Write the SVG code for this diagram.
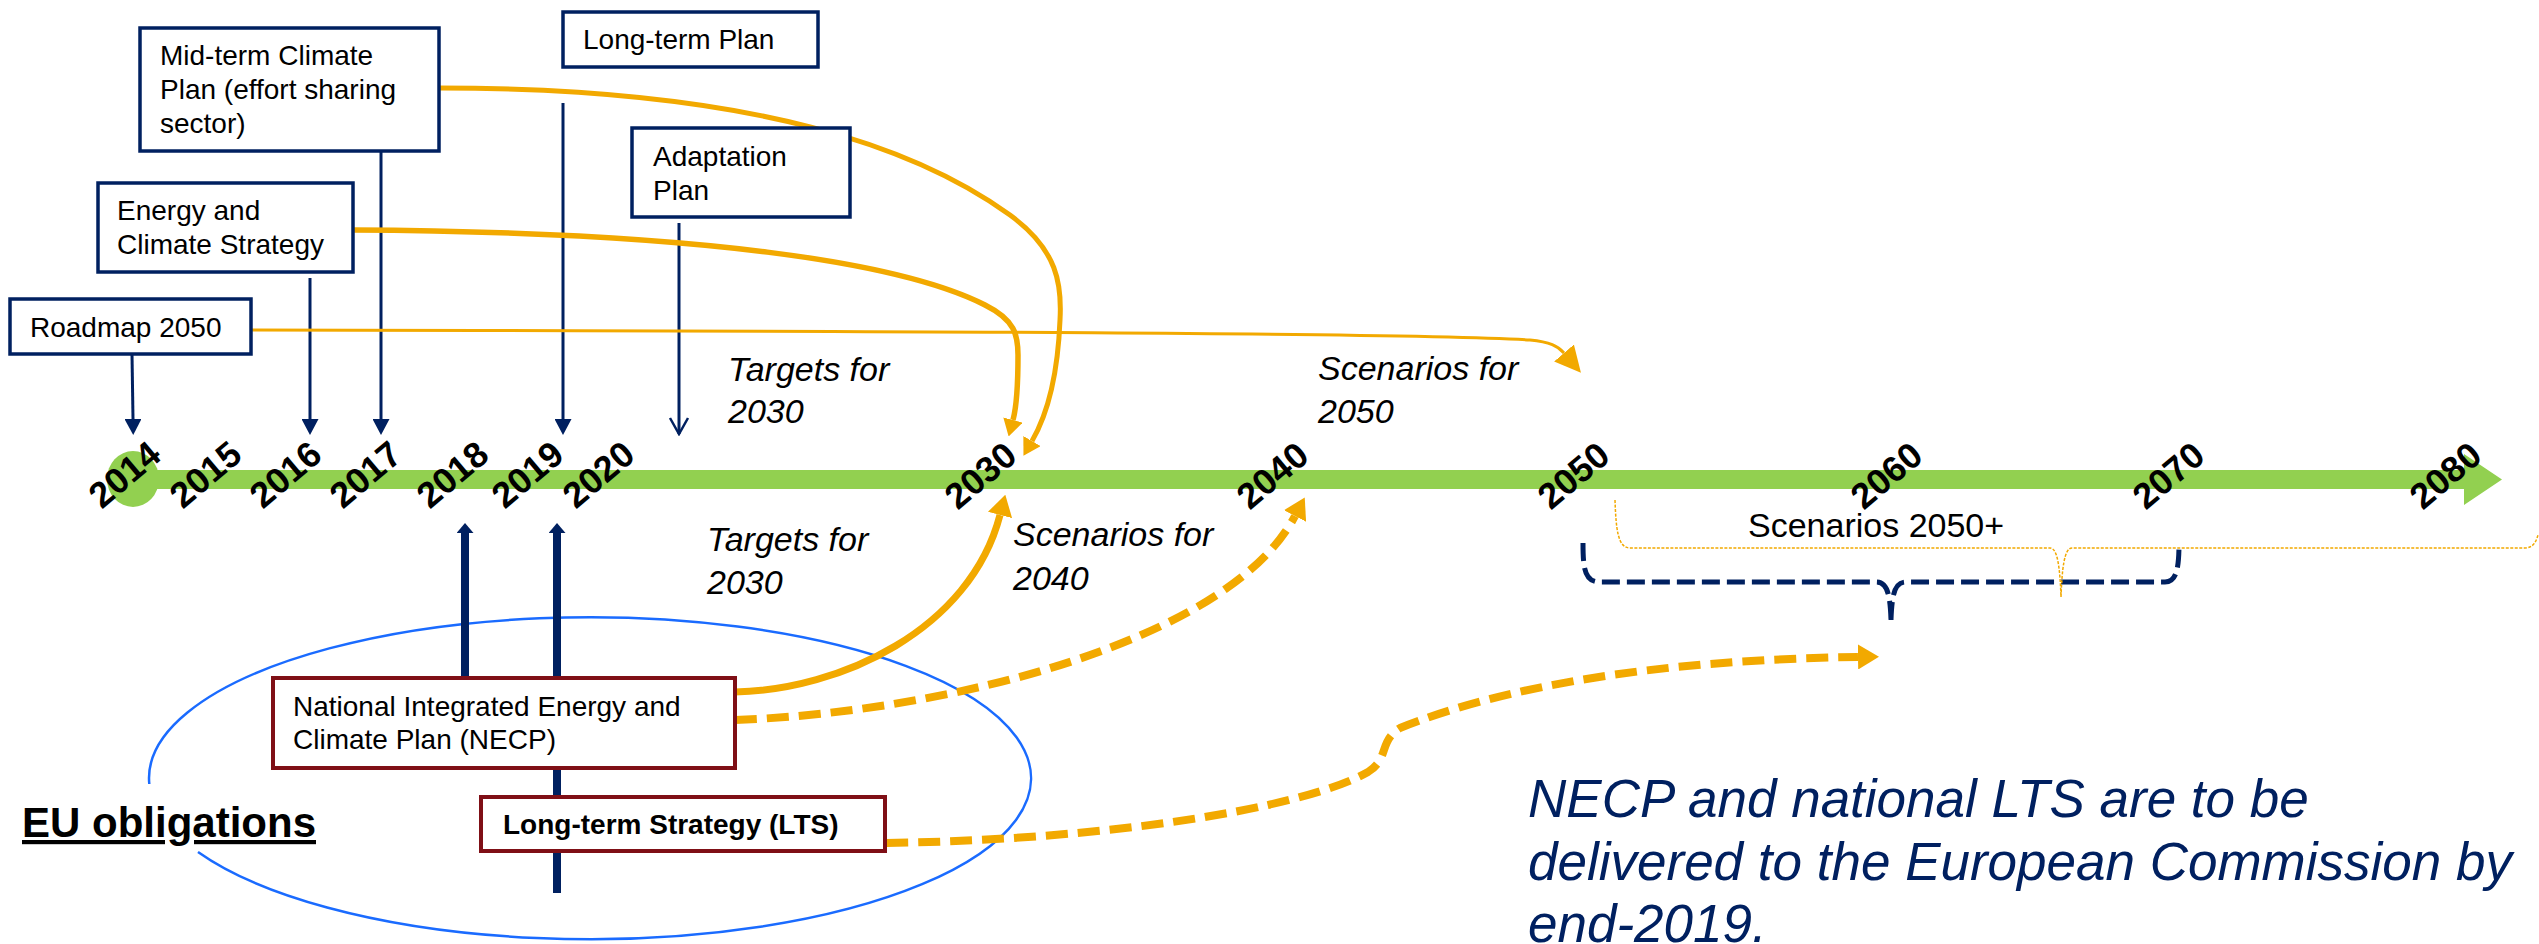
<svg xmlns="http://www.w3.org/2000/svg" width="2539" height="944" viewBox="0 0 2539 944">
<style>
  .t{font-family:"Liberation Sans",Arial,sans-serif;fill:#000}
  .box{fill:#fff;stroke:#002060;stroke-width:3.5}
  .rbox{fill:#fff;stroke:#7F0F16;stroke-width:4}
  .n{font-size:28px}
  .yr{font-size:36px;font-weight:bold;text-anchor:middle}
  .it{font-size:34px;font-style:italic}
  .nv{stroke:#002060;fill:none}
  .or{stroke:#F2A900;fill:none}
  .big{font-size:53px;font-style:italic;fill:#002060}
</style>
<defs>
  <marker id="navyTri" markerUnits="userSpaceOnUse" viewBox="0 0 16 17" refX="0" refY="8.5" markerWidth="16" markerHeight="17" orient="auto">
    <path d="M0,0 L16,8.5 L0,17 z" fill="#002060"/>
  </marker>
  <marker id="navyOpen" markerUnits="userSpaceOnUse" viewBox="-2 -2 20 22" refX="16" refY="9" markerWidth="20" markerHeight="22" orient="auto">
    <path d="M0,0 L16,9 L0,18" fill="none" stroke="#002060" stroke-width="2.5"/>
  </marker>
  <marker id="navyUp" markerUnits="userSpaceOnUse" viewBox="0 0 10 17" refX="0" refY="8.5" markerWidth="10" markerHeight="17" orient="auto">
    <path d="M0,0 L10,8.5 L0,17 z" fill="#002060"/>
  </marker>
  <marker id="orThin" markerUnits="userSpaceOnUse" viewBox="0 0 26 26" refX="0" refY="13" markerWidth="26" markerHeight="26" orient="auto">
    <path d="M0,0 L26,13 L0,26 z" fill="#F2A900"/>
  </marker>
  <marker id="orS" markerUnits="userSpaceOnUse" viewBox="0 0 17 20" refX="0" refY="10" markerWidth="17" markerHeight="20" orient="auto">
    <path d="M0,0 L17,10 L0,20 z" fill="#F2A900"/>
  </marker>
  <marker id="orL" markerUnits="userSpaceOnUse" viewBox="0 0 21 25" refX="0" refY="12.5" markerWidth="21" markerHeight="25" orient="auto">
    <path d="M0,0 L21,12.5 L0,25 z" fill="#F2A900"/>
  </marker>
</defs>
<rect width="2539" height="944" fill="#fff"/>

<!-- EU obligations ellipse -->
<path id="eu-ellipse" d="M 149.3 784 A 441 161 0 1 1 198 852" fill="none" stroke="#1A6BFF" stroke-width="2.5"/>

<!-- timeline -->
<g id="timeline">
  <ellipse cx="133" cy="479" rx="26" ry="28" fill="#92D050"/>
  <path d="M133,470 L2464,470 L2464,454 L2502,479.5 L2464,505 L2464,489 L133,489 z" fill="#92D050"/>
</g>

<g id="connectors">
  <!-- navy down arrows -->
  <path class="nv" stroke-width="3" d="M132,354 L133,419" marker-end="url(#navyTri)"/>
  <path class="nv" stroke-width="3" d="M310,278 L310,419" marker-end="url(#navyTri)"/>
  <path class="nv" stroke-width="3" d="M381,151 L381,419" marker-end="url(#navyTri)"/>
  <path class="nv" stroke-width="3" d="M563,103 L563,419" marker-end="url(#navyTri)"/>
  <path class="nv" stroke-width="3" d="M679,223 L679,434" marker-end="url(#navyOpen)"/>
  <!-- navy up arrows -->
  <path class="nv" stroke-width="8" d="M465,680 L465,533" marker-end="url(#navyUp)"/>
  <path class="nv" stroke-width="8" d="M557,893 L557,533" marker-end="url(#navyUp)"/>
  <!-- orange: roadmap to 2050 -->
  <path class="or" stroke-width="3" d="M252,330 C900,331 1420,333 1530,340 C1550,342 1558,346 1564,353" marker-end="url(#orThin)"/>
  <!-- energy strategy to 2030 -->
  <path class="or" stroke-width="5.5" d="M353,230 C700,232 900,262 985,305 C1015,320 1018,335 1018,355 C1018,380 1017,405 1013,420" marker-end="url(#orS)"/>
  <!-- mid-term to 2030 -->
  <path class="or" stroke-width="5" d="M439,88 C760,88 920,150 1010,215 C1058,250 1062,285 1060,320 C1058,370 1050,410 1032,441" marker-end="url(#orS)"/>
  <!-- NECP to 2030 -->
  <path class="or" stroke-width="7" d="M735,692 C840,690 970,630 1000,515" marker-end="url(#orL)"/>
  <!-- NECP to 2040 dashed -->
  <path class="or" stroke-width="8" stroke-dasharray="22 10" d="M735,720 C950,712 1230,640 1295,516" marker-end="url(#orL)"/>
  <!-- LTS dashed -->
  <path class="or" stroke-width="8" stroke-dasharray="22 10" d="M886,843 C1100,840 1300,810 1368,772 C1390,758 1378,742 1400,728 C1500,688 1650,660 1858,657" marker-end="url(#orL)"/>
  <!-- navy dashed brace -->
  <path class="nv" stroke-width="5" stroke-dasharray="18 7" d="M1583,543 C1583,570 1585,582 1600,582 L1876,582 C1886,582 1890,590 1891,620 M1891,620 C1892,590 1896,582 1906,582 L2165,582 C2176,582 2179,570 2179,543"/>
  <!-- orange thin brace -->
  <path class="or" stroke-width="1.5" stroke-dasharray="3 1.5" d="M1615,500 C1616,530 1618,548 1630,548 L2050,548 C2058,548 2060,570 2061,597 C2062,570 2064,548 2072,548 L2525,548 C2533,548 2536,542 2538,535"/>
</g>

<!-- nodes -->
<g id="midterm">
  <rect class="box" x="140" y="28" width="299" height="123"/>
  <text class="t n" x="160" y="65">Mid-term Climate</text>
  <text class="t n" x="160" y="99">Plan (effort sharing</text>
  <text class="t n" x="160" y="133">sector)</text>
</g>
<g id="longterm">
  <rect class="box" x="563" y="12" width="255" height="55"/>
  <text class="t n" x="583" y="49">Long-term Plan</text>
</g>
<g id="adaptation">
  <rect class="box" x="632" y="128" width="218" height="89"/>
  <text class="t n" x="653" y="166">Adaptation</text>
  <text class="t n" x="653" y="200">Plan</text>
</g>
<g id="energy">
  <rect class="box" x="98" y="183" width="255" height="89"/>
  <text class="t n" x="117" y="220">Energy and</text>
  <text class="t n" x="117" y="254">Climate Strategy</text>
</g>
<g id="roadmap">
  <rect class="box" x="10" y="299" width="241" height="55"/>
  <text class="t n" x="30" y="337">Roadmap 2050</text>
</g>
<g id="necp">
  <rect class="rbox" x="273" y="678" width="462" height="90"/>
  <text class="t n" x="293" y="716">National Integrated Energy and</text>
  <text class="t n" x="293" y="749">Climate Plan (NECP)</text>
</g>
<g id="lts">
  <rect class="rbox" x="481" y="797" width="404" height="54"/>
  <text class="t n" x="503" y="834" font-weight="bold">Long-term Strategy (LTS)</text>
</g>
<g id="eu-obligations">
  <text class="t" x="22" y="837" font-size="42" font-weight="bold" text-decoration="underline">EU obligations</text>
</g>

<!-- year labels -->
<g id="years">
  <text class="t yr" x="124" y="487" transform="rotate(-40 124 474)">2014</text>
  <text class="t yr" x="205" y="487" transform="rotate(-40 205 474)">2015</text>
  <text class="t yr" x="285" y="487" transform="rotate(-40 285 474)">2016</text>
  <text class="t yr" x="365" y="487" transform="rotate(-40 365 474)">2017</text>
  <text class="t yr" x="452" y="487" transform="rotate(-40 452 474)">2018</text>
  <text class="t yr" x="527" y="487" transform="rotate(-40 527 474)">2019</text>
  <text class="t yr" x="598" y="487" transform="rotate(-40 598 474)">2020</text>
  <text class="t yr" x="980" y="488" transform="rotate(-40 980 475)">2030</text>
  <text class="t yr" x="1272" y="488" transform="rotate(-40 1272 475)">2040</text>
  <text class="t yr" x="1573" y="488" transform="rotate(-40 1573 475)">2050</text>
  <text class="t yr" x="1886" y="488" transform="rotate(-40 1886 475)">2060</text>
  <text class="t yr" x="2168" y="488" transform="rotate(-40 2168 475)">2070</text>
  <text class="t yr" x="2445" y="488" transform="rotate(-40 2445 475)">2080</text>
</g>

<!-- labels -->
<g id="labels">
  <text class="t it" x="728" y="381">Targets for</text>
  <text class="t it" x="728" y="423">2030</text>
  <text class="t it" x="707" y="551">Targets for</text>
  <text class="t it" x="707" y="594">2030</text>
  <text class="t it" x="1013" y="546">Scenarios for</text>
  <text class="t it" x="1013" y="590">2040</text>
  <text class="t it" x="1318" y="380">Scenarios for</text>
  <text class="t it" x="1318" y="423">2050</text>
  <text class="t" x="1748" y="537" font-size="34">Scenarios 2050+</text>
  <text class="t big" x="1528" y="817" style="fill:#002060">NECP and national LTS are to be</text>
  <text class="t big" x="1528" y="880" style="fill:#002060">delivered to the European Commission by</text>
  <text class="t big" x="1528" y="942" style="fill:#002060">end-2019.</text>
</g>
</svg>
